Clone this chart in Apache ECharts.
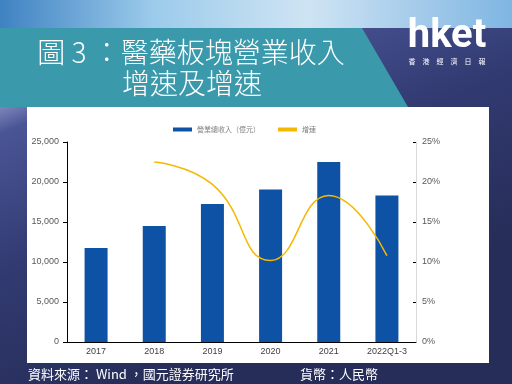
<!DOCTYPE html>
<html><head><meta charset="utf-8">
<script src="https://cdn.jsdelivr.net/npm/echarts@6/dist/echarts.min.js"></script>
<style>html,body{margin:0;padding:0;}#c{width:512px;height:384px;}</style>
</head><body><div id="c"></div>
<script>
var categories = ['2017','2018','2019','2020','2021','2022Q1-3'];
var revenue = [11750, 14500, 17250, 19050, 22500, 18300];
var growth = [null, 22.5, 19.7, 10.2, 18.3, 10.8];
var leftTicks = [0, 5000, 10000, 15000, 20000, 25000];
var rightTicks = [0, 5, 10, 15, 20, 25];
var titleLines = ['圖 3 ：醫藥板塊營業收入', '增速及增速'];
var seriesNames = ['營業總收入（億元）', '增速'];

var chart = echarts.init(document.getElementById('c'));
var cjk = '"Noto Sans CJK TC", "Noto Sans CJK SC", sans-serif';
chart.setOption({
  animation: false,
  backgroundColor: 'transparent',
  graphic: [
    {type:'rect', z:-10, shape:{x:0,y:0,width:512,height:384},
     style:{fill:{type:'linear',x:0,y:0,x2:0.3,y2:1,colorStops:[
       {offset:0,color:'#5f9ed6'},{offset:0.1,color:'#a9c6ea'},{offset:0.2,color:'#a3a6d2'},
       {offset:0.3,color:'#4a5596'},{offset:0.6,color:'#323b72'},{offset:1,color:'#262d58'}]}}},
    {type:'rect', z:-9, shape:{x:0,y:0,width:512,height:28},
     style:{fill:{type:'linear',x:0,y:0,x2:1,y2:0,colorStops:[
       {offset:0,color:'#3f82c2'},{offset:0.3,color:'#9ccbeb'},{offset:0.6,color:'#cfe4f3'},{offset:1,color:'#7fb6e2'}]}}},
    {type:'polygon', z:-8, shape:{points:[[0,28],[362,28],[408,107],[0,107]]}, style:{fill:'#3a9aac'}},
    {type:'rect', z:-7, shape:{x:27,y:107,width:462,height:256}, style:{fill:'#ffffff'}},
    {type:'text', z:5, style:{x:191,y:52,text:titleLines[0],fill:'#ffffff',font:'300 28px '+cjk,textAlign:'center',textVerticalAlign:'middle'}},
    {type:'text', z:5, style:{x:192,y:83,text:titleLines[1],fill:'#ffffff',font:'300 28px '+cjk,textAlign:'center',textVerticalAlign:'middle'}},
    {type:'text', z:5, style:{x:447,y:37,text:'hket',fill:'#ffffff',font:'bold 40px Roboto, "Liberation Sans", sans-serif',textAlign:'center',textVerticalAlign:'middle'}},
    {type:'text', z:5, style:{x:447,y:61,text:'香　港　經　濟　日　報',fill:'#ffffff',font:'7px '+cjk,textAlign:'center',textVerticalAlign:'middle'}},
    {type:'text', z:5, style:{x:28,y:374,text:'資料來源： Wind ，國元證券研究所',fill:'#ffffff',font:'13px '+cjk,textVerticalAlign:'middle'}},
    {type:'text', z:5, style:{x:300,y:374,text:'貨幣：人民幣',fill:'#ffffff',font:'13px '+cjk,textVerticalAlign:'middle'}}
  ],
  legend: {
    top: 121, left: 168, itemGap: 18,
    textStyle: {fontSize: 7, color: '#7f7f7f', fontFamily: cjk},
    data: [
      {name: seriesNames[0], icon: 'rect', itemStyle:{color:'#0d52a5'}},
      {name: seriesNames[1], icon: 'rect'}
    ],
    itemWidth: 19, itemHeight: 4
  },
  grid: {left: 67, right: 96, top: 142, bottom: 42},
  xAxis: {
    type: 'category', data: categories,
    axisLine: {lineStyle:{color:'#000000', width:1}},
    axisTick: {inside: true, length: 4, lineStyle:{color:'#000'}},
    axisLabel: {fontSize: 9, color:'#404040', margin: 5, fontFamily:'"Liberation Sans", sans-serif'}
  },
  yAxis: [
    {type:'value', min:0, max:25000, interval:5000,
     axisLine:{show:true, lineStyle:{color:'#000'}},
     axisTick:{show:true, length:4, lineStyle:{color:'#000'}},
     splitLine:{show:false},
     axisLabel:{fontSize:9, color:'#595959', margin:8, fontFamily:'"Liberation Sans", sans-serif',
       formatter:function(v){return v===0?'0':v.toLocaleString('en-US');}}},
    {type:'value', min:0, max:25, interval:5, position:'right',
     axisLine:{show:true, lineStyle:{color:'#d9d9d9'}},
     axisTick:{show:true, inside:true, length:3, lineStyle:{color:'#000'}},
     splitLine:{show:false},
     axisLabel:{fontSize:9, color:'#595959', margin:6, fontFamily:'"Liberation Sans", sans-serif', formatter:'{value}%'}}
  ],
  series: [
    {name: seriesNames[0], type:'bar', data: revenue, barWidth: 23, itemStyle:{color:'#0d52a5'}, yAxisIndex:0},
    {name: seriesNames[1], type:'line', data: growth, yAxisIndex:1, smooth: 0.5, symbol:'none',
     lineStyle:{color:'#f5b800', width:1.5}, itemStyle:{color:'#f5b800'}}
  ]
});
</script></body></html>
